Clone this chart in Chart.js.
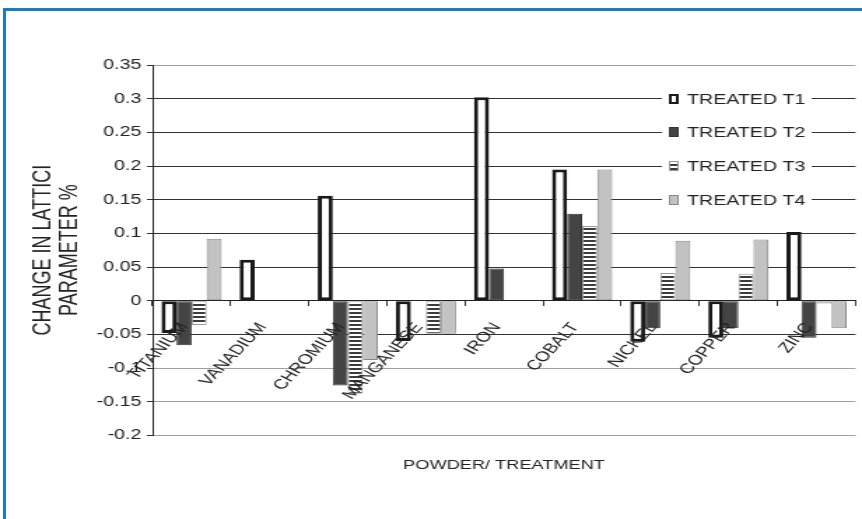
<!DOCTYPE html>
<html>
<head>
<meta charset="utf-8">
<title>Change in lattice parameter</title>
<script src="https://cdn.jsdelivr.net/npm/chart.js@4.4.1/dist/chart.umd.min.js"></script>
<style>
  html, body { margin: 0; padding: 0; background: #fff; }
  #wrap { position: relative; width: 862px; height: 519px; overflow: hidden; }
  #frame { position: absolute; left: 3px; top: 8px; right: 0; bottom: 0; border-top: 3px solid #1b7cc6; border-left: 3px solid #1b7cc6; pointer-events: none; }
  #chart { display: block; }
</style>
</head>
<body>
<div id="wrap">
  <!-- the scanned figure is wider than it should be, so draw narrow and widen with css -->
  <canvas id="chart" width="616" height="519" style="width:862px;height:519px"></canvas>
  <div id="frame"></div>
</div>
<script>
const categories = ['TITANIUM', 'VANADIUM', 'CHROMIUM', 'MANGANESE', 'IRON', 'COBALT', 'NICKEL', 'COPPER', 'ZINC'];
const seriesLabels = ['TREATED T1', 'TREATED T2', 'TREATED T3', 'TREATED T4'];
const treatedT1 = [-0.048, 0.061, 0.156, -0.060, 0.302, 0.195, -0.061, -0.055, 0.102];
const treatedT2 = [-0.066, null, -0.126, null, 0.048, 0.129, -0.041, -0.041, -0.055];
const treatedT3 = [-0.036, null, -0.138, -0.049, null, 0.111, 0.041, 0.040, -0.004];
const treatedT4 = [0.092, null, -0.088, -0.049, null, 0.195, 0.089, 0.091, -0.041];
const yMin = -0.2, yMax = 0.35, yStep = 0.05;
const xTitle = 'POWDER/ TREATMENT';
const yTitle = ['CHANGE IN LATTICI', 'PARAMETER %'];

const FONT = '"Liberation Sans", Arial, sans-serif';
const TEXT = '#222';

function stripes() {
    const c = document.createElement('canvas');
    c.width = 4;
    c.height = 4;
    const g = c.getContext('2d');
    g.fillStyle = '#fff';
    g.fillRect(0, 0, 4, 4);
    g.fillStyle = '#3c3c3c';
    g.fillRect(0, 0, 4, 2);
    return g.createPattern(c, 'repeat');
}

// legend sits inside the plot on a white patch, one row per gridline
const boxLegend = {
    id: 'boxLegend',
    afterDatasetsDraw(chart) {
        const { ctx, chartArea } = chart;
        const step = chartArea.height / 11;
        const x0 = 473, x1 = 580;
        ctx.save();
        ctx.fillStyle = '#fff';
        ctx.fillRect(x0, chartArea.top + step - 13, x1 - x0, step * 3 + 26);
        ctx.font = '14px ' + FONT;
        ctx.textBaseline = 'middle';
        chart.data.datasets.forEach((ds, i) => {
            const y = Math.round(chartArea.top + step * (i + 1));
            ctx.fillStyle = ds.backgroundColor;
            ctx.fillRect(x0 + 5, y - 5, 7, 10);
            ctx.lineWidth = ds.borderWidth > 1 ? 2 : 1;
            ctx.strokeStyle = ds.borderColor;
            ctx.strokeRect(x0 + 5 + ctx.lineWidth / 2, y - 5 + ctx.lineWidth / 2, 7 - ctx.lineWidth, 10 - ctx.lineWidth);
            ctx.fillStyle = TEXT;
            ctx.fillText(ds.label, x0 + 18, y + 1);
        });
        ctx.restore();
    }
};

const lightLines = [35, -10, -15, -20];

new Chart(document.getElementById('chart'), {
    type: 'bar',
    data: {
        labels: categories,
        datasets: [
            { label: seriesLabels[0], data: treatedT1, backgroundColor: '#fff', borderColor: '#1a1a1a', borderWidth: 3 },
            { label: seriesLabels[1], data: treatedT2, backgroundColor: '#444', borderColor: '#333', borderWidth: 1 },
            { label: seriesLabels[2], data: treatedT3, backgroundColor: stripes(), borderColor: '#999', borderWidth: 1 },
            { label: seriesLabels[3], data: treatedT4, backgroundColor: '#c2c2c2', borderColor: '#888', borderWidth: 1 }
        ]
    },
    options: {
        responsive: false,
        animation: false,
        devicePixelRatio: 1,
        layout: { padding: { top: 65, right: 4.6, left: 0, bottom: 0 } },
        datasets: {
            bar: { categoryPercentage: 0.77, barPercentage: 1, borderSkipped: false }
        },
        scales: {
            x: {
                position: { y: 0 },
                ticks: {
                    color: TEXT,
                    font: { family: FONT, size: 14 },
                    minRotation: 55,
                    maxRotation: 55,
                    padding: 14,
                    labelOffset: -5,
                    autoSkip: false,
                    z: 1
                },
                grid: { drawOnChartArea: false, tickLength: 5, tickColor: '#333', offset: true },
                border: { color: '#222' }
            },
            y: {
                min: yMin,
                max: yMax,
                ticks: {
                    stepSize: yStep,
                    color: TEXT,
                    font: { family: FONT, size: 14 },
                    padding: 4,
                    callback: (v) => String(parseFloat(v.toFixed(2)))
                },
                grid: {
                    color: (c) => lightLines.includes(Math.round(c.tick.value * 100)) ? '#a0a0a0' : '#333',
                    tickColor: '#333',
                    tickLength: 4
                },
                border: { color: '#222' },
                title: {
                    display: true,
                    text: yTitle,
                    color: TEXT,
                    font: { family: FONT, size: 18, lineHeight: 1.05 },
                    padding: { top: 22, bottom: 0 }
                },
                afterFit: (scale) => { scale.width = 109; }
            }
        },
        plugins: {
            legend: { display: false },
            tooltip: { enabled: false },
            title: {
                display: true,
                text: xTitle,
                position: 'bottom',
                fullSize: false,
                color: TEXT,
                font: { family: FONT, size: 13, weight: 'normal' },
                padding: { top: 22, bottom: 46 }
            }
        }
    },
    plugins: [boxLegend]
});
</script>
</body>
</html>
